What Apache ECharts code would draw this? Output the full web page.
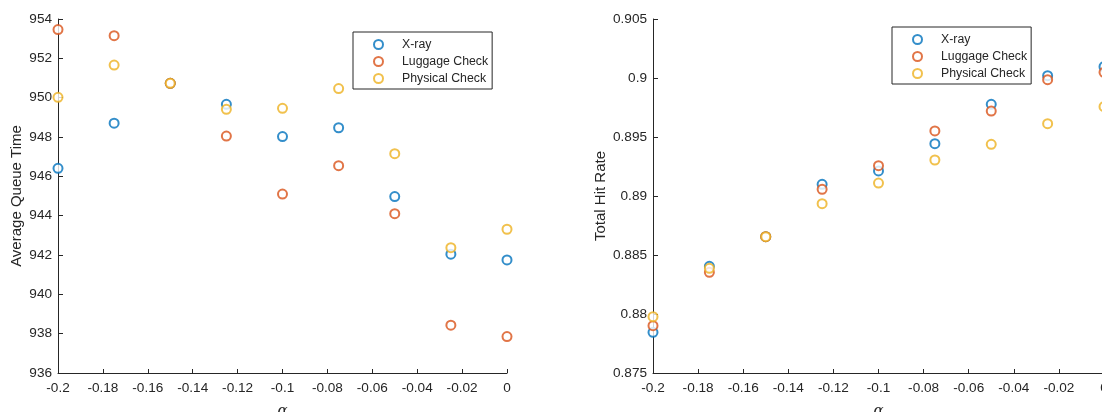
<!DOCTYPE html>
<html>
<head>
<meta charset="utf-8">
<script src="https://cdn.jsdelivr.net/npm/echarts@6/dist/echarts.min.js"></script>
<style>html,body{margin:0;padding:0;background:#fff}#c{width:1102px;height:412px}</style>
</head>
<body>
<div id="c"></div>
<script>
const alphas = [-0.2, -0.175, -0.15, -0.125, -0.1, -0.075, -0.05, -0.025, 0];
const seriesNames = ['X-ray', 'Luggage Check', 'Physical Check'];
// Average Queue Time
const queueXray     = [946.41, 948.70, 950.73, 949.66, 948.02, 948.47, 944.97, 942.04, 941.75];
const queueLuggage  = [953.46, 953.15, 950.73, 948.05, 945.10, 946.54, 944.10, 938.43, 937.85];
const queuePhysical = [950.02, 951.66, 950.73, 949.41, 949.46, 950.46, 947.15, 942.37, 943.31];
// Total Hit Rate
const hitXray     = [0.87845, 0.88404, 0.88655, 0.89099, 0.89212, 0.89443, 0.89777, 0.90020, 0.90096];
const hitLuggage  = [0.87901, 0.88353, 0.88655, 0.89057, 0.89257, 0.89551, 0.89720, 0.89986, 0.90048];
const hitPhysical = [0.87977, 0.88387, 0.88655, 0.88935, 0.89110, 0.89305, 0.89438, 0.89613, 0.89757];

const colors = ['#0072BD', '#D95319', '#EDB120'];
const axisColor = '#262626';
const font = 'Liberation Sans, Arial, sans-serif';

function zip(xs, ys){ return xs.map((x,i)=>[x, ys[i]]); }
function fmt(v){ return String(parseFloat(Number(v).toFixed(4))); }

function xAxisCfg(gi){
  return {
    gridIndex: gi, type: 'value', min: -0.2, max: 0, interval: 0.02,
    name: 'α', nameLocation: 'middle', nameGap: 31,
    nameTextStyle: {fontFamily: 'DejaVu Serif, serif', fontStyle: 'italic', fontSize: 15, color: axisColor, verticalAlign: 'top'},
    axisLine: {show: true, onZero: false, lineStyle: {color: axisColor, width: 1}},
    axisTick: {show: true, inside: true, length: 4, lineStyle: {color: axisColor}},
    axisLabel: {color: axisColor, fontFamily: font, fontSize: 13.6, margin: 8, formatter: fmt, showMaxLabel: true, showMinLabel: true},
    splitLine: {show: false}
  };
}
function yAxisCfg(gi, name, min, max, interval, gap){
  return {
    gridIndex: gi, type: 'value', min: min, max: max, interval: interval,
    name: name, nameLocation: 'middle', nameGap: gap,
    nameTextStyle: {fontFamily: font, fontSize: 15, color: axisColor},
    axisLine: {show: true, onZero: false, lineStyle: {color: axisColor, width: 1}},
    axisTick: {show: true, inside: true, length: 5, lineStyle: {color: axisColor}},
    axisLabel: {color: axisColor, fontFamily: font, fontSize: 13.6, margin: 6, formatter: fmt},
    splitLine: {show: false}
  };
}
function sc(name, gi, data, ci){
  return {
    name: name, type: 'scatter', xAxisIndex: gi, yAxisIndex: gi, data: data,
    symbol: 'emptyCircle', symbolSize: 9,
    itemStyle: {color: colors[ci], borderWidth: 1.1},
    emphasis: {disabled: true}
  };
}
function legendCfg(gi, left, top){
  return {
    orient: 'vertical', left: left, top: top,
    data: seriesNames.slice(),
    itemWidth: 9, itemHeight: 9, itemGap: 4,
    padding: [6, 4, 4, 20],
    borderColor: axisColor, borderWidth: 1, backgroundColor: '#fff',
    textStyle: {fontFamily: font, fontSize: 12.3, color: axisColor, lineHeight: 13, padding: [0, 0, 0, 14]},
    selectedMode: false
  };
}

const chart = echarts.init(document.getElementById('c'), null, {renderer: 'canvas'});
chart.setOption({
  animation: false,
  backgroundColor: '#fff',
  color: colors,
  grid: [
    {left: 58, right: 595, top: 19, bottom: 39, containLabel: false, outerBoundsMode: 'none'},
    {left: 653, right: -2, top: 19, bottom: 39, containLabel: false, outerBoundsMode: 'none'}
  ],
  xAxis: [xAxisCfg(0), xAxisCfg(1)],
  yAxis: [
    yAxisCfg(0, 'Average Queue Time', 936, 954, 2, 34),
    yAxisCfg(1, 'Total Hit Rate', 0.875, 0.905, 0.005, 45)
  ],
  legend: [legendCfg(0, 353, 32), legendCfg(1, 892, 27)],
  series: [
    sc('X-ray', 0, zip(alphas, queueXray), 0),
    sc('Luggage Check', 0, zip(alphas, queueLuggage), 1),
    sc('Physical Check', 0, zip(alphas, queuePhysical), 2),
    sc('X-ray', 1, zip(alphas, hitXray), 0),
    sc('Luggage Check', 1, zip(alphas, hitLuggage), 1),
    sc('Physical Check', 1, zip(alphas, hitPhysical), 2)
  ]
});
</script>
</body>
</html>
